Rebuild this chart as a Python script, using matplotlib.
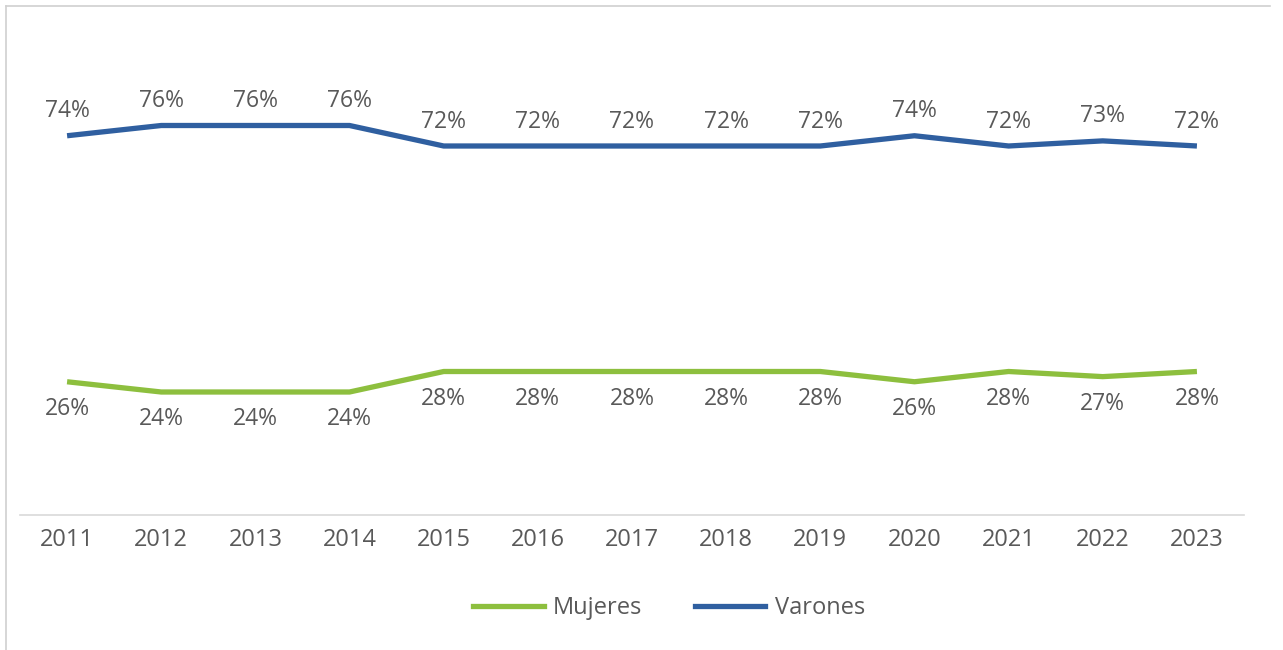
import matplotlib
matplotlib.use("Agg")
import matplotlib.pyplot as plt
from matplotlib.lines import Line2D

plt.rcParams['font.family'] = ['Open Sans', 'DejaVu Sans']

# data
years = ['2011', '2012', '2013', '2014', '2015', '2016', '2017',
         '2018', '2019', '2020', '2021', '2022', '2023']
mujeres = [26, 24, 24, 24, 28, 28, 28, 28, 28, 26, 28, 27, 28]
varones = [74, 76, 76, 76, 72, 72, 72, 72, 72, 74, 72, 73, 72]

green = '#8DBF3E'
blue = '#2F5FA0'
text_color = '#595959'

fig = plt.figure(figsize=(12.83, 6.5), dpi=100)
ax = fig.add_axes([20 / 1283, 135 / 650, 1224 / 1283, 410 / 650])

x = list(range(len(years)))
ax.plot(x, mujeres, color=green, linewidth=3.8, solid_joinstyle='round',
        solid_capstyle='butt', label='Mujeres')
ax.plot(x, varones, color=blue, linewidth=3.8, solid_joinstyle='round',
        solid_capstyle='butt', label='Varones')

for xi, v in zip(x, varones):
    ax.annotate(f'{v}%', (xi, v), xytext=(0, 9), textcoords='offset points',
                ha='center', va='bottom', fontsize=16.5, color=text_color)
for xi, v in zip(x, mujeres):
    ax.annotate(f'{v}%', (xi, v), xytext=(0, -11), textcoords='offset points',
                ha='center', va='top', fontsize=16.5, color=text_color)

ax.set_xlim(-0.5, len(years) - 0.5)
ax.set_ylim(0, 80)
ax.set_xticks(x)
ax.set_xticklabels(years, fontsize=17, color=text_color)
ax.tick_params(axis='x', length=0, pad=9)
ax.set_yticks([])
for s in ['top', 'right', 'left']:
    ax.spines[s].set_visible(False)
ax.spines['bottom'].set_color('#D9D9D9')
ax.spines['bottom'].set_linewidth(1.2)

handles = [Line2D([0], [0], color=green, linewidth=3.8),
           Line2D([0], [0], color=blue, linewidth=3.8)]
fig.legend(handles, ['Mujeres', 'Varones'], loc='center',
           bbox_to_anchor=(669 / 1283, 1 - 608 / 650), ncol=2, frameon=False,
           fontsize=17, labelcolor=text_color, handlelength=3.0,
           handletextpad=0.4, columnspacing=2.2)

# outer border of the chart area
fig.add_artist(Line2D([6 / 1283, 6 / 1283], [0, 1 - 6 / 650],
                      transform=fig.transFigure, color='#D0D0D0', linewidth=1.2))
fig.add_artist(Line2D([6 / 1283, 1270 / 1283], [1 - 6 / 650, 1 - 6 / 650],
                      transform=fig.transFigure, color='#D0D0D0', linewidth=1.2))

fig.savefig('out.png', dpi=100)
